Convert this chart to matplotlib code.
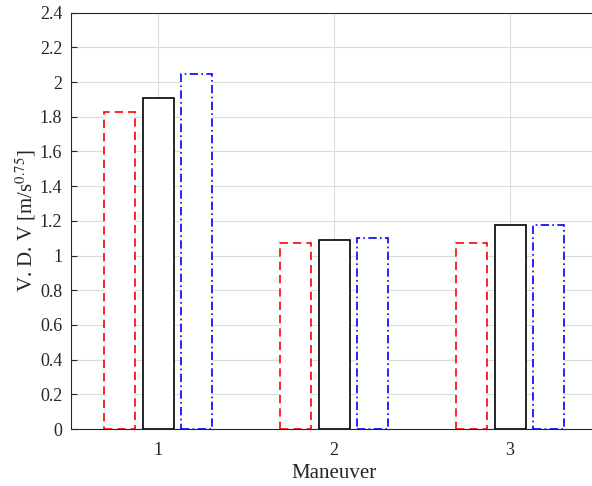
import matplotlib
matplotlib.use("Agg")
import matplotlib.pyplot as plt
import numpy as np

plt.rcParams['font.family'] = ['Liberation Serif', 'DejaVu Serif']
plt.rcParams['mathtext.fontset'] = 'stix'

maneuvers = [1, 2, 3]
series_a = [1.83, 1.07, 1.075]
series_b = [1.91, 1.09, 1.177]
series_c = [2.045, 1.10, 1.177]
yticks = [0, 0.2, 0.4, 0.6, 0.8, 1, 1.2, 1.4, 1.6, 1.8, 2, 2.2, 2.4]
ytick_labels = ['0', '0.2', '0.4', '0.6', '0.8', '1', '1.2', '1.4', '1.6', '1.8', '2', '2.2', '2.4']

fig = plt.figure(figsize=(5.92, 4.86), dpi=100)
ax = fig.add_axes([70.5 / 592, 57 / 486, (598 - 70.5) / 592, (429 - 12.7) / 486])

x = np.array(maneuvers, dtype=float)
w = 0.176
off = 0.219
styles = [
    (series_a, -off, 'red', (0, (5, 3))),
    (series_b, 0.0, 'black', '-'),
    (series_c, off, 'blue', (0, (5, 2, 1, 2))),
]
for vals, o, c, ls in styles:
    ax.bar(x + o, vals, width=w, facecolor='white', edgecolor=c, linestyle=ls, linewidth=1.2, zorder=3)

ax.set_xlim(0.5, 3.5)
ax.set_ylim(0, 2.4)
ax.set_xticks(maneuvers)
ax.set_xticklabels([str(m) for m in maneuvers])
ax.set_yticks(yticks)
ax.set_yticklabels(ytick_labels)
ax.grid(True, color='#dcdcdc', linewidth=0.8, zorder=0)
ax.set_axisbelow(True)
ax.tick_params(direction='in', labelsize=13, colors='#262626', length=4)
ax.tick_params(axis='x', pad=9)
ax.tick_params(axis='y', pad=6)
for s in ax.spines.values():
    s.set_color('#262626')
    s.set_linewidth(0.8)
ax.set_xlabel('Maneuver', fontsize=15, color='#262626', labelpad=4)
ax.set_ylabel('V. D. V [m/s$^{0.75}$]', fontsize=15, color='#262626', labelpad=1)

fig.savefig('out.png', dpi=100)
